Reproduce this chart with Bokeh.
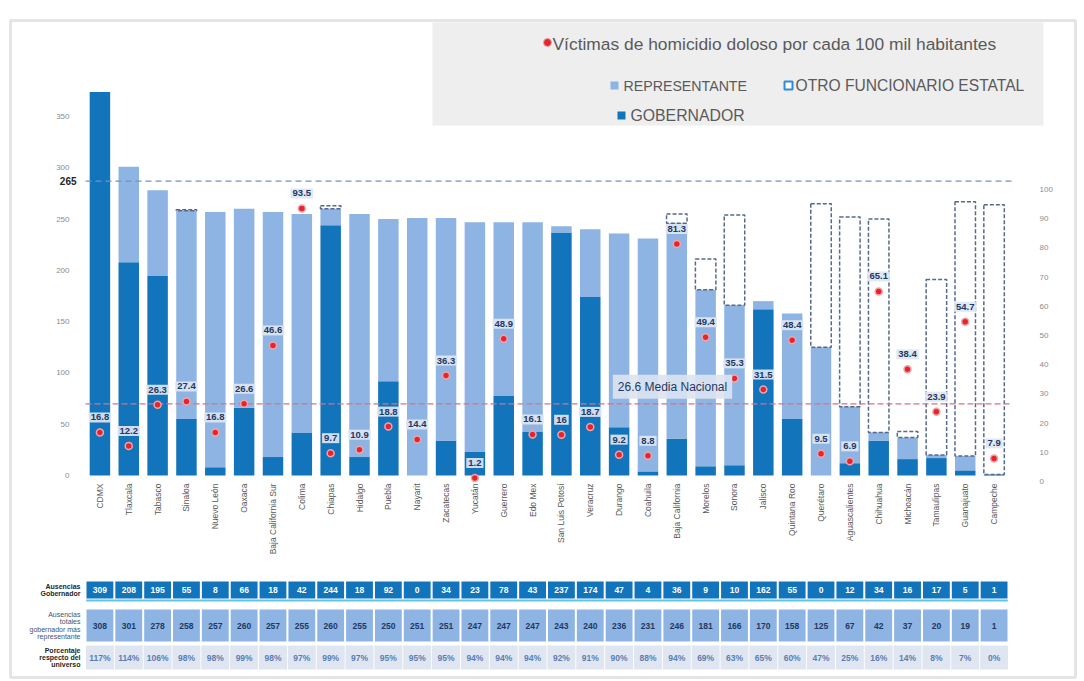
import numpy as np
from bokeh.plotting import figure
from bokeh.models import (ColumnDataSource, Range1d, LinearAxis, FixedTicker,
                          Label, BoxAnnotation)
from bokeh.core.properties import value
from bokeh.embed import file_html
from bokeh.resources import INLINE

# ---------------- data ----------------
estados = ["CDMX", "Tlaxcala", "Tabasco", "Sinaloa", "Nuevo León", "Oaxaca",
           "Baja California Sur", "Colima", "Chiapas", "Hidalgo", "Puebla", "Nayarit",
           "Zacatecas", "Yucatán", "Guerrero", "Edo Mex", "San Luis Potosí", "Veracruz",
           "Durango", "Coahuila", "Baja California", "Morelos", "Sonora", "Jalisco",
           "Quintana Roo", "Querétaro", "Aguascalientes", "Chihuahua", "Michoacán",
           "Tamaulipas", "Guanajuato", "Campeche"]

# bar heights as drawn (left axis)
barra_gobernador = [374, 208, 195, 55, 8, 66, 18, 42, 244, 18, 92, 0, 34, 23, 78, 43,
                    237, 174, 47, 4, 36, 9, 10, 162, 55, 0, 12, 34, 16, 17, 5, 1]
barra_total = [374, 301, 278, 258, 257, 260, 257, 255, 260, 255, 250, 251, 251, 247, 247, 247,
               243, 240, 236, 231, 246, 181, 166, 170, 158, 125, 67, 42, 37, 20, 19, 1]
# top of dashed "otro funcionario estatal" outline (None = not shown)
barra_otro = [None, None, None, 259, None, None, None, None, 263, None, None, None, None, None,
              None, None, None, None, None, None, 255, 211, 254, None, None, 265, 252, 250, 43,
              191, 267, 264]

# homicide rate per 100k (right axis)
homicidios = [16.8, 12.2, 26.3, 27.4, 16.8, 26.6, 46.6, 93.5, 9.7, 10.9, 18.8, 14.4, 36.3, 1.2,
              48.9, 16.1, 16, 18.7, 9.2, 8.8, 81.3, 49.4, 35.3, 31.5, 48.4, 9.5, 6.9, 65.1,
              38.4, 23.9, 54.7, 7.9]
media_nacional = 26.6

# table
ausencias_gobernador = [309, 208, 195, 55, 8, 66, 18, 42, 244, 18, 92, 0, 34, 23, 78, 43,
                        237, 174, 47, 4, 36, 9, 10, 162, 55, 0, 12, 34, 16, 17, 5, 1]
ausencias_totales = [308, 301, 278, 258, 257, 260, 257, 255, 260, 255, 250, 251, 251, 247, 247,
                     247, 243, 240, 236, 231, 246, 181, 166, 170, 158, 125, 67, 42, 37, 20, 19, 1]
porcentaje = [117, 114, 106, 98, 98, 99, 98, 97, 99, 97, 95, 95, 95, 94, 94, 94, 92, 91, 90, 88,
              94, 69, 63, 65, 60, 47, 25, 16, 14, 8, 7, 0]
universo = 265
linea_universo = 287          # position of the dashed universe line read on the left axis

ticks_izq = [0, 50, 100, 150, 200, 250, 300, 350]
ticks_der = [0, 10, 20, 30, 40, 50, 60, 70, 80, 90, 100]

encabezados = ["Ausencias\nGobernador",
               "Ausencias\ntotales\ngobernador más\nrepresentante",
               "Porcentaje\nrespecto del\nuniverso"]

leyenda = ["Víctimas de homicidio doloso por cada 100 mil habitantes",
           "REPRESENTANTE", "OTRO FUNCIONARIO ESTATAL", "GOBERNADOR"]

# ---------------- layout helpers (image pixel -> data) ----------------
W, H = 1084, 681
FL, FR = 85, 1008           # plot area left/right (px)
Y0, PXL = 475.0, 1.0257     # left axis: px of value 0, px per unit
Z0, PXR = 481.0, 2.92       # right axis: px of value 0, px per unit
n = len(estados)
PXX = (FR - FL) / n


def ix(px):
    return -0.5 + (px - FL) / PXX


def iy(py):
    return (Y0 - py) / PXL


def iz(py):
    return (Z0 - py) / PXR


DARK = "#1274ba"
LIGHT = "#8db4e2"
NAVY = "#1f3864"
FNAME = "Liberation Sans"
FONT = value(FNAME)

p = figure(width=W, height=H, output_backend="svg", toolbar_location=None,
           x_range=Range1d(ix(0), ix(W)), y_range=Range1d(iy(H), iy(0)),
           x_axis_location=None,
           min_border_left=0, min_border_right=0, min_border_top=0, min_border_bottom=0)
p.extra_y_ranges = {"der": Range1d(iz(H), iz(0))}
p.grid.visible = False
p.outline_line_color = None
p.background_fill_color = "white"
p.border_fill_color = "white"

# outer border and legend box
p.add_layout(BoxAnnotation(left=ix(10), right=ix(1075), top=iy(20), bottom=iy(677),
                           fill_alpha=0, line_color="#a9a9a9", line_width=3, level="underlay"))
p.add_layout(BoxAnnotation(left=ix(432), right=ix(1043), top=iy(22), bottom=iy(125),
                           fill_color="#eeeeee", fill_alpha=1, line_color=None, level="underlay"))

# left axis (inside the plot area at the bars' left edge)
ya = p.yaxis[0]
ya.fixed_location = ix(FL)
ya.ticker = FixedTicker(ticks=ticks_izq)
ya.axis_line_color = None
ya.major_tick_line_color = None
ya.minor_tick_line_color = None
ya.major_label_standoff = 10
ya.major_label_text_font_size = "8px"
ya.major_label_text_color = "#8c8c8c"
ya.major_label_text_font = FNAME

ra = LinearAxis(y_range_name="der", ticker=FixedTicker(ticks=ticks_der))
ra.fixed_location = ix(FR)
ra.axis_line_color = None
ra.major_tick_line_color = None
ra.minor_tick_line_color = None
ra.major_label_standoff = 25
ra.major_label_text_font_size = "8px"
ra.major_label_text_color = "#8c8c8c"
ra.major_label_text_font = FNAME
p.add_layout(ra, "right")

idx = np.arange(n)
src = ColumnDataSource(dict(x=idx, gob=barra_gobernador, tot=barra_total,
                            hom=homicidios,
                            hom_lab=[round(h + 15 / PXR, 3) for h in homicidios],
                            txt=[f"{h:g}" for h in homicidios]))

p.vbar(x="x", width=0.71, bottom=0, top="gob", source=src, fill_color=DARK, line_color=None)
p.vbar(x="x", width=0.71, bottom="gob", top="tot", source=src, fill_color=LIGHT, line_color=None)

oi = [i for i in range(n) if barra_otro[i] is not None]
osrc = ColumnDataSource(dict(x=oi, b=[barra_total[i] for i in oi],
                             t=[barra_otro[i] for i in oi]))
p.vbar(x="x", width=0.71, bottom="b", top="t", source=osrc, fill_alpha=0,
       line_color="#56698a", line_dash="4 2", line_width=1.5)

# reference lines
p.segment(x0=[-0.5], x1=[n - 0.3], y0=[linea_universo], y1=[linea_universo],
          line_color="#6f94c4", line_dash="6 4", line_width=1.3)
p.segment(x0=[-0.5], x1=[n - 0.4], y0=[media_nacional], y1=[media_nacional],
          y_range_name="der", line_color="#d9708a", line_dash="6 3", line_width=1.4)

p.add_layout(Label(x=ix(76), y=linea_universo, text=str(universo), text_align="right",
                   text_baseline="middle", text_font=FNAME, text_font_style="bold",
                   text_font_size="10px", text_color="#262626"))

# homicide dots and labels
p.text(x="x", y="hom_lab", text="txt", source=src, y_range_name="der",
       text_align="center", text_baseline="middle", text_font=FONT,
       text_font_style="bold", text_font_size="9.5px", text_color=NAVY,
       background_fill_color="#dde6f3", background_fill_alpha=0.92, padding=2)
p.scatter(x="x", y="hom", source=src, y_range_name="der", size=7,
          fill_color="#e2262f", line_color="#f2a3a8", line_width=1.5)

p.text(x=[ix(672)], y=[media_nacional + 17 / PXR], text=[f"{media_nacional} Media Nacional"],
       y_range_name="der", text_align="center", text_baseline="middle", text_font=FONT,
       text_font_size="12px", text_color=NAVY, background_fill_color="#dbe3f1",
       background_fill_alpha=0.9, padding=5)

# category labels
p.text(x=idx, y=[iy(483)] * n, text=estados, angle=np.pi / 2, text_align="right",
       text_baseline="middle", text_font=FONT, text_font_size="8.5px", text_color="#595959")

# table
filas = [(589.5, 17, DARK, "white", [str(v) for v in ausencias_gobernador], 0.93),
         (625.0, 32, LIGHT, NAVY, [str(v) for v in ausencias_totales], 0.93),
         (657.0, 24, "#dfe6f1", "#5b7db3", [f"{v}%" for v in porcentaje], 0.97)]
for yc, hh, fc, tc, txts, wd in filas:
    p.rect(x=idx, y=[iy(yc)] * n, width=wd, height=hh / PXL, fill_color=fc, line_color=None)
    p.text(x=idx, y=[iy(yc)] * n, text=txts, text_align="center", text_baseline="middle",
           text_font=FONT, text_font_style="bold", text_font_size="8.5px", text_color=tc)
# thin cyan rule under the first row
p.rect(x=[(n - 1) / 2], y=[iy(600)], width=n - 0.05, height=2 / PXL, fill_color="#5fc3ec",
       line_color=None)

for (yc, hh, fc, tc, txts, wd), enc, st, col in zip(filas, encabezados,
                                                     ["bold", "normal", "bold"],
                                                     ["#1f1f1f", "#44546a", "#1f1f1f"]):
    p.add_layout(Label(x=ix(80), y=iy(yc), text=enc, text_align="right",
                       text_baseline="middle", text_font=FNAME, text_font_style=st,
                       text_font_size="7px", text_color=col, text_line_height=1.05))

# legend
p.scatter(x=[ix(547)], y=[iy(42)], size=8, fill_color="#e2262f", line_color="#f2a3a8",
          line_width=1)
p.scatter(x=[ix(614)], y=[iy(85)], marker="square", size=8, fill_color=LIGHT, line_color=None)
p.scatter(x=[ix(788)], y=[iy(85)], marker="square", size=8, fill_color="white",
          line_color="#2e8bd6", line_width=2)
p.scatter(x=[ix(621)], y=[iy(115)], marker="square", size=8, fill_color=DARK, line_color=None)
for tx, px_, py_, fs in [(leyenda[0], 552, 43, "17.4px"),
                         (leyenda[1], 623, 85, "14.2px"),
                         (leyenda[2], 795, 85, "15.6px"),
                         (leyenda[3], 630, 115, "15.8px")]:
    p.add_layout(Label(x=ix(px_), y=iy(py_), text=tx, text_align="left",
                       text_baseline="middle", text_font=FNAME, text_font_size=fs,
                       text_color="#5a5a5a"))

open("out.html", "w").write(file_html(p, INLINE))
